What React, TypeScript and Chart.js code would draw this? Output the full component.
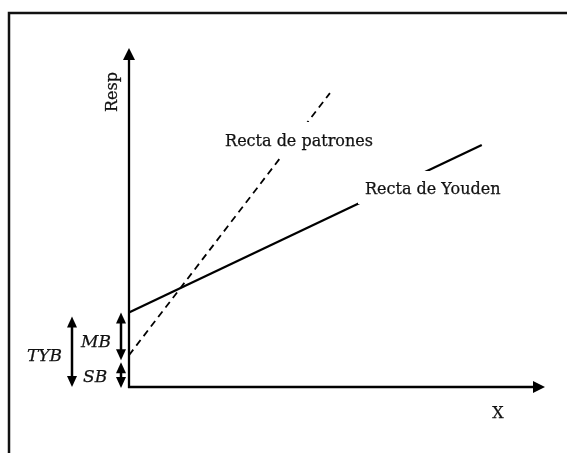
import React, { useEffect, useRef } from "react";
import { Chart, registerables } from "chart.js";

Chart.register(...registerables);

// ---- data (diagram units) ----
const xRange = [0, 100];
const yRange = [0, 100];
const youdenX = [0, 84.8];
const youdenY = [22, 71.4];
const patronesX = [0, 48.3];
const patronesY = [9.4, 86.7];
const seriesNames = ["Recta de Youden", "Recta de patrones"];
const axisTitles = ["X", "Resp"];
const bracketLabels = ["MB", "SB", "TYB"];

const FONT = '"DejaVu Serif", serif';

function doubleArrow(ctx: CanvasRenderingContext2D, x: number, y1: number, y2: number) {
  const hw = 5;
  const hl = 11;
  ctx.lineWidth = 2.5;
  ctx.beginPath();
  ctx.moveTo(x, y1 + hl - 1);
  ctx.lineTo(x, y2 - hl + 1);
  ctx.stroke();
  ctx.beginPath();
  ctx.moveTo(x, y1);
  ctx.lineTo(x - hw, y1 + hl);
  ctx.lineTo(x + hw, y1 + hl);
  ctx.closePath();
  ctx.fill();
  ctx.beginPath();
  ctx.moveTo(x, y2);
  ctx.lineTo(x - hw, y2 - hl);
  ctx.lineTo(x + hw, y2 - hl);
  ctx.closePath();
  ctx.fill();
}

function boldText(ctx: CanvasRenderingContext2D, t: string, x: number, y: number) {
  ctx.fillText(t, x, y);
  ctx.strokeText(t, x, y);
}

const diagramPlugin = {
  id: "diagram",
  afterDatasetsDraw(chart: any) {
    const ctx: CanvasRenderingContext2D = chart.ctx;
    const xs = chart.scales.x;
    const ys = chart.scales.y;
    const x0 = xs.getPixelForValue(xRange[0]);
    const y0 = ys.getPixelForValue(yRange[0]);
    const xEnd = xs.getPixelForValue(xRange[1]);
    const yEnd = ys.getPixelForValue(yRange[1]);
    ctx.save();

    // outer frame (top + left)
    ctx.strokeStyle = "#111";
    ctx.lineWidth = 2.5;
    ctx.beginPath();
    ctx.moveTo(9, 453);
    ctx.lineTo(9, 13);
    ctx.lineTo(567, 13);
    ctx.stroke();

    // label boxes (white, hide lines)
    ctx.fillStyle = "#fff";
    ctx.fillRect(220, 122, 158, 36);
    ctx.fillRect(358, 171, 154, 33);

    // axes
    ctx.strokeStyle = "#000";
    ctx.fillStyle = "#000";
    ctx.lineWidth = 2.3;
    ctx.beginPath();
    ctx.moveTo(x0, y0 + 1);
    ctx.lineTo(x0, yEnd + 10);
    ctx.moveTo(x0 - 1, y0);
    ctx.lineTo(xEnd - 10, y0);
    ctx.stroke();
    ctx.beginPath();
    ctx.moveTo(x0, yEnd);
    ctx.lineTo(x0 - 6, yEnd + 12);
    ctx.lineTo(x0 + 6, yEnd + 12);
    ctx.closePath();
    ctx.fill();
    ctx.beginPath();
    ctx.moveTo(xEnd, y0);
    ctx.lineTo(xEnd - 12, y0 - 6);
    ctx.lineTo(xEnd - 12, y0 + 6);
    ctx.closePath();
    ctx.fill();

    // brackets
    const yTop = ys.getPixelForValue(youdenY[0]);
    const yMid = ys.getPixelForValue(patronesY[0]);
    doubleArrow(ctx, x0 - 8, yTop, yMid + 5);
    doubleArrow(ctx, x0 - 8, yMid + 7, y0 + 1);
    doubleArrow(ctx, 72, yTop + 4, y0);

    // texts
    ctx.fillStyle = "#111";
    ctx.strokeStyle = "#111";
    ctx.lineWidth = 0.25;
    ctx.textBaseline = "alphabetic";
    ctx.font = `16px ${FONT}`;
    ctx.textAlign = "center";
    boldText(ctx, seriesNames[1], 299, 146);
    ctx.textAlign = "left";
    boldText(ctx, seriesNames[0], 365, 194);
    ctx.textAlign = "center";
    boldText(ctx, axisTitles[0], 498, 418);
    ctx.save();
    ctx.translate(116.5, 92);
    ctx.rotate(-Math.PI / 2);
    ctx.textAlign = "center";
    boldText(ctx, axisTitles[1], 0, 0);
    ctx.restore();

    ctx.font = `italic 17px ${FONT}`;
    ctx.textAlign = "left";
    boldText(ctx, bracketLabels[0], 81, 347);
    boldText(ctx, bracketLabels[1], 83, 382);
    ctx.textAlign = "right";
    boldText(ctx, bracketLabels[2], 62, 361);

    ctx.restore();
  },
};

export default function App() {
  const ref = useRef<HTMLCanvasElement>(null);
  useEffect(() => {
    if (!ref.current) return;
    const chart = new Chart(ref.current, {
      type: "scatter",
      data: {
        datasets: [
          {
            label: seriesNames[0],
            data: youdenX.map((x, i) => ({ x, y: youdenY[i] })),
            showLine: true,
            borderColor: "#000",
            borderWidth: 2.2,
            pointRadius: 0,
          },
          {
            label: seriesNames[1],
            data: patronesX.map((x, i) => ({ x, y: patronesY[i] })),
            showLine: true,
            borderColor: "#000",
            borderWidth: 1.8,
            borderDash: [7, 5],
            pointRadius: 0,
          },
        ],
      },
      options: {
        animation: false,
        responsive: false,
        devicePixelRatio: 1,
        layout: { padding: { left: 129, top: 48, right: 22, bottom: 66 } },
        plugins: { legend: { display: false }, tooltip: { enabled: false } },
        scales: {
          x: { type: "linear", min: xRange[0], max: xRange[1], display: false },
          y: { type: "linear", min: yRange[0], max: yRange[1], display: false },
        },
      },
      plugins: [diagramPlugin],
    } as any);
    let alive = true;
    const fonts: any = (document as any).fonts;
    if (fonts && fonts.load) {
      Promise.all([fonts.load(`16px ${FONT}`), fonts.load(`italic 17px ${FONT}`)])
        .then(() => {
          if (alive) chart.update("none");
        })
        .catch(() => {});
    }
    return () => {
      alive = false;
      chart.destroy();
    };
  }, []);
  return (
    <div style={{ position: "absolute", left: 0, top: 0, width: 567, height: 453, background: "#fff" }}>
      <canvas ref={ref} width={567} height={453} style={{ display: "block" }} />
    </div>
  );
}
